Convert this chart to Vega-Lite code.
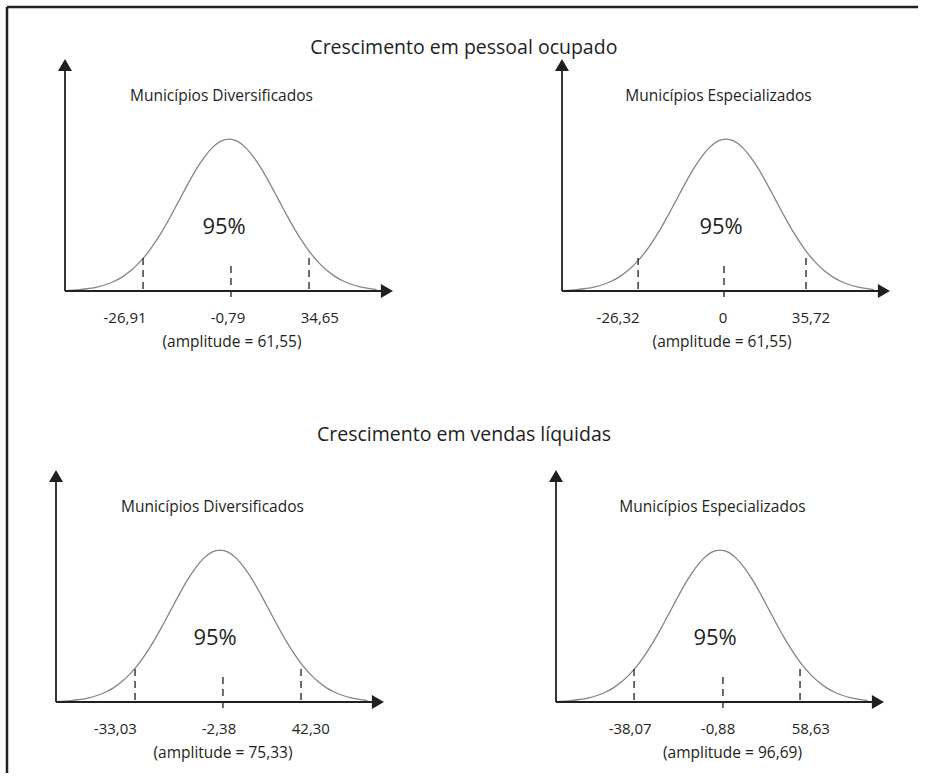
{
  "$schema": "https://vega.github.io/schema/vega-lite/v6.json",
  "background": "white",
  "padding": {"left": 5, "top": 5, "right": 3, "bottom": 3},
  "config": {"view": {"stroke": null}},
  "datasets": {
    "curva": [
      {"x": 0, "y": 0.2}, {"x": 2.5, "y": 0.4}, {"x": 5, "y": 0.7}, {"x": 7.5, "y": 1.1},
      {"x": 10, "y": 1.8}, {"x": 12.5, "y": 2.8}, {"x": 15, "y": 4.2}, {"x": 17.5, "y": 6.1},
      {"x": 20, "y": 8.7}, {"x": 22.5, "y": 12.0}, {"x": 25, "y": 16.1}, {"x": 27.5, "y": 21.1},
      {"x": 30, "y": 26.7}, {"x": 32.5, "y": 33.0}, {"x": 35, "y": 39.6}, {"x": 37.5, "y": 46.2},
      {"x": 40, "y": 52.4}, {"x": 42.5, "y": 57.7}, {"x": 45, "y": 61.9}, {"x": 47.5, "y": 64.6},
      {"x": 50, "y": 65.5}, {"x": 52.5, "y": 64.6}, {"x": 55, "y": 61.9}, {"x": 57.5, "y": 57.7},
      {"x": 60, "y": 52.4}, {"x": 62.5, "y": 46.2}, {"x": 65, "y": 39.6}, {"x": 67.5, "y": 33.0},
      {"x": 70, "y": 26.7}, {"x": 72.5, "y": 21.1}, {"x": 75, "y": 16.1}, {"x": 77.5, "y": 12.0},
      {"x": 80, "y": 8.7}, {"x": 82.5, "y": 6.1}, {"x": 85, "y": 4.2}, {"x": 87.5, "y": 2.8},
      {"x": 90, "y": 1.8}, {"x": 92.5, "y": 1.1}, {"x": 95, "y": 0.6}
    ],
    "limites": [
      {"painel": "pessoal_div", "x": 23.8, "topo": 14.2, "base": 0},
      {"painel": "pessoal_div", "x": 50.6, "topo": 10.8, "base": -4.3},
      {"painel": "pessoal_div", "x": 74.4, "topo": 14.2, "base": 0},
      {"painel": "pessoal_esp", "x": 23.2, "topo": 14.2, "base": 0},
      {"painel": "pessoal_esp", "x": 49.4, "topo": 10.8, "base": -4.3},
      {"painel": "pessoal_esp", "x": 74.4, "topo": 14.2, "base": 0},
      {"painel": "vendas_div", "x": 24.1, "topo": 14.2, "base": 0},
      {"painel": "vendas_div", "x": 50.9, "topo": 10.8, "base": -4.3},
      {"painel": "vendas_div", "x": 74.7, "topo": 14.2, "base": 0},
      {"painel": "vendas_esp", "x": 23.8, "topo": 14.2, "base": 0},
      {"painel": "vendas_esp", "x": 50.9, "topo": 10.8, "base": -4.3},
      {"painel": "vendas_esp", "x": 74.4, "topo": 14.2, "base": 0}
    ],
    "rotulos": [
      {"painel": "pessoal_div", "tipo": "limite", "xr": 18.3, "texto": "-26,91"},
      {"painel": "pessoal_div", "tipo": "limite", "xr": 49.7, "texto": "-0,79"},
      {"painel": "pessoal_div", "tipo": "limite", "xr": 77.7, "texto": "34,65"},
      {"painel": "pessoal_div", "tipo": "amplitude", "xr": 50.9, "texto": "(amplitude = 61,55)"},
      {"painel": "pessoal_esp", "tipo": "limite", "xr": 17.1, "texto": "-26,32"},
      {"painel": "pessoal_esp", "tipo": "limite", "xr": 49.1, "texto": "0"},
      {"painel": "pessoal_esp", "tipo": "limite", "xr": 75.9, "texto": "35,72"},
      {"painel": "pessoal_esp", "tipo": "amplitude", "xr": 48.8, "texto": "(amplitude = 61,55)"},
      {"painel": "vendas_div", "tipo": "limite", "xr": 18.1, "texto": "-33,03"},
      {"painel": "vendas_div", "tipo": "limite", "xr": 49.7, "texto": "-2,38"},
      {"painel": "vendas_div", "tipo": "limite", "xr": 77.7, "texto": "42,30"},
      {"painel": "vendas_div", "tipo": "amplitude", "xr": 50.9, "texto": "(amplitude = 75,33)"},
      {"painel": "vendas_esp", "tipo": "limite", "xr": 22.6, "texto": "-38,07"},
      {"painel": "vendas_esp", "tipo": "limite", "xr": 49.4, "texto": "-0,88"},
      {"painel": "vendas_esp", "tipo": "limite", "xr": 77.7, "texto": "58,63"},
      {"painel": "vendas_esp", "tipo": "amplitude", "xr": 53.8, "texto": "(amplitude = 96,69)"}
    ],
    "paineis": [
      {"painel": "pessoal_div", "secao": "Crescimento em pessoal ocupado", "grupo": "Municípios Diversificados", "confianca": "95%"},
      {"painel": "pessoal_esp", "secao": "Crescimento em pessoal ocupado", "grupo": "Municípios Especializados", "confianca": "95%"},
      {"painel": "vendas_div", "secao": "Crescimento em vendas líquidas", "grupo": "Municípios Diversificados", "confianca": "95%"},
      {"painel": "vendas_esp", "secao": "Crescimento em vendas líquidas", "grupo": "Municípios Especializados", "confianca": "95%"}
    ]
  },
  "columns": 2,
  "bounds": "flush",
  "spacing": {"row": 179, "column": 163},
  "concat": [
    {
      "width": 337, "height": 232,
      "layer": [
        {"data": {"name": "curva"}, "mark": {"type": "line", "interpolate": "monotone", "color": "#858585", "strokeWidth": 1.3},
         "encoding": {"x": {"field": "x", "type": "quantitative", "scale": {"domain": [-2.744, 100], "nice": false, "zero": false}, "axis": null},
                      "y": {"field": "y", "type": "quantitative", "scale": {"domain": [0, 100], "nice": false}, "axis": null}}},
        {"data": {"values": [{}]}, "mark": {"type": "rule", "color": "#231f20", "strokeWidth": 1.8},
         "encoding": {"x": {"datum": 0, "type": "quantitative"}, "y": {"datum": 0, "type": "quantitative"}, "y2": {"datum": 97.4}}},
        {"data": {"values": [{}]}, "mark": {"type": "rule", "color": "#231f20", "strokeWidth": 1.8},
         "encoding": {"x": {"datum": 0, "type": "quantitative"}, "x2": {"datum": 98.15}, "y": {"datum": 0, "type": "quantitative"}}},
        {"data": {"values": [{}]}, "mark": {"type": "point", "shape": "triangle-up", "size": 196, "filled": true, "opacity": 1, "color": "#231f20"},
         "encoding": {"x": {"datum": 0, "type": "quantitative"}, "y": {"datum": 97.4, "type": "quantitative"}}},
        {"data": {"values": [{}]}, "mark": {"type": "point", "shape": "triangle-right", "size": 196, "filled": true, "opacity": 1, "color": "#231f20"},
         "encoding": {"x": {"datum": 98.15, "type": "quantitative"}, "y": {"datum": 0, "type": "quantitative"}}},
        {"data": {"name": "limites"}, "transform": [{"filter": "datum.painel == 'pessoal_div'"}],
         "mark": {"type": "rule", "color": "#231f20", "strokeWidth": 1.3, "strokeDash": [7, 5]},
         "encoding": {"x": {"field": "x", "type": "quantitative"}, "y": {"field": "topo", "type": "quantitative"}, "y2": {"field": "base"}}},
        {"data": {"name": "rotulos"}, "transform": [{"filter": "datum.painel == 'pessoal_div' && datum.tipo == 'limite'"}],
         "mark": {"type": "text", "font": "Open Sans", "fontSize": 15, "color": "#231f20"},
         "encoding": {"x": {"field": "xr", "type": "quantitative"}, "y": {"datum": -11.8, "type": "quantitative"}, "text": {"field": "texto"}}},
        {"data": {"name": "rotulos"}, "transform": [{"filter": "datum.painel == 'pessoal_div' && datum.tipo == 'amplitude'"}],
         "mark": {"type": "text", "font": "Open Sans", "fontSize": 15.5, "color": "#231f20"},
         "encoding": {"x": {"field": "xr", "type": "quantitative"}, "y": {"datum": -22, "type": "quantitative"}, "text": {"field": "texto"}}},
        {"data": {"name": "paineis"}, "transform": [{"filter": "datum.painel == 'pessoal_div'"}],
         "mark": {"type": "text", "font": "Open Sans", "fontSize": 15.5, "color": "#231f20"},
         "encoding": {"x": {"datum": 47.7, "type": "quantitative"}, "y": {"datum": 84, "type": "quantitative"}, "text": {"field": "grupo"}}},
        {"data": {"name": "paineis"}, "transform": [{"filter": "datum.painel == 'pessoal_div'"}],
         "mark": {"type": "text", "font": "Open Sans", "fontSize": 22, "color": "#231f20"},
         "encoding": {"x": {"datum": 48.5, "type": "quantitative"}, "y": {"datum": 27.5, "type": "quantitative"}, "text": {"field": "confianca"}}},
        {"data": {"name": "paineis"}, "transform": [{"filter": "datum.painel == 'pessoal_div'"}],
         "mark": {"type": "text", "font": "Open Sans", "fontSize": 19.5, "baseline": "alphabetic", "color": "#231f20"},
         "encoding": {"x": {"datum": 121.6, "type": "quantitative"}, "y": {"datum": 102.2, "type": "quantitative"}, "text": {"field": "secao"}}},
        {"data": {"values": [{}]}, "mark": {"type": "rule", "color": "#231f20", "strokeWidth": 2.5},
         "encoding": {"x": {"datum": -17.68, "type": "quantitative"}, "y": {"datum": 122.4, "type": "quantitative"}, "y2": {"datum": -207.8}}},
        {"data": {"values": [{}]}, "mark": {"type": "rule", "color": "#231f20", "strokeWidth": 2.5},
         "encoding": {"x": {"datum": -17.68, "type": "quantitative"}, "x2": {"datum": 260.1}, "y": {"datum": 122.4, "type": "quantitative"}}}
      ]
    },
    {
      "width": 337, "height": 232,
      "layer": [
        {"data": {"name": "curva"}, "mark": {"type": "line", "interpolate": "monotone", "color": "#858585", "strokeWidth": 1.3},
         "encoding": {"x": {"field": "x", "type": "quantitative", "scale": {"domain": [-1.829, 100.915], "nice": false, "zero": false}, "axis": null},
                      "y": {"field": "y", "type": "quantitative", "scale": {"domain": [0, 100], "nice": false}, "axis": null}}},
        {"data": {"values": [{}]}, "mark": {"type": "rule", "color": "#231f20", "strokeWidth": 1.8},
         "encoding": {"x": {"datum": 0, "type": "quantitative"}, "y": {"datum": 0, "type": "quantitative"}, "y2": {"datum": 97.4}}},
        {"data": {"values": [{}]}, "mark": {"type": "rule", "color": "#231f20", "strokeWidth": 1.8},
         "encoding": {"x": {"datum": 0, "type": "quantitative"}, "x2": {"datum": 98.15}, "y": {"datum": 0, "type": "quantitative"}}},
        {"data": {"values": [{}]}, "mark": {"type": "point", "shape": "triangle-up", "size": 196, "filled": true, "opacity": 1, "color": "#231f20"},
         "encoding": {"x": {"datum": 0, "type": "quantitative"}, "y": {"datum": 97.4, "type": "quantitative"}}},
        {"data": {"values": [{}]}, "mark": {"type": "point", "shape": "triangle-right", "size": 196, "filled": true, "opacity": 1, "color": "#231f20"},
         "encoding": {"x": {"datum": 98.15, "type": "quantitative"}, "y": {"datum": 0, "type": "quantitative"}}},
        {"data": {"name": "limites"}, "transform": [{"filter": "datum.painel == 'pessoal_esp'"}],
         "mark": {"type": "rule", "color": "#231f20", "strokeWidth": 1.3, "strokeDash": [7, 5]},
         "encoding": {"x": {"field": "x", "type": "quantitative"}, "y": {"field": "topo", "type": "quantitative"}, "y2": {"field": "base"}}},
        {"data": {"name": "rotulos"}, "transform": [{"filter": "datum.painel == 'pessoal_esp' && datum.tipo == 'limite'"}],
         "mark": {"type": "text", "font": "Open Sans", "fontSize": 15, "color": "#231f20"},
         "encoding": {"x": {"field": "xr", "type": "quantitative"}, "y": {"datum": -11.8, "type": "quantitative"}, "text": {"field": "texto"}}},
        {"data": {"name": "rotulos"}, "transform": [{"filter": "datum.painel == 'pessoal_esp' && datum.tipo == 'amplitude'"}],
         "mark": {"type": "text", "font": "Open Sans", "fontSize": 15.5, "color": "#231f20"},
         "encoding": {"x": {"field": "xr", "type": "quantitative"}, "y": {"datum": -22, "type": "quantitative"}, "text": {"field": "texto"}}},
        {"data": {"name": "paineis"}, "transform": [{"filter": "datum.painel == 'pessoal_esp'"}],
         "mark": {"type": "text", "font": "Open Sans", "fontSize": 15.5, "color": "#231f20"},
         "encoding": {"x": {"datum": 47.7, "type": "quantitative"}, "y": {"datum": 84, "type": "quantitative"}, "text": {"field": "grupo"}}},
        {"data": {"name": "paineis"}, "transform": [{"filter": "datum.painel == 'pessoal_esp'"}],
         "mark": {"type": "text", "font": "Open Sans", "fontSize": 22, "color": "#231f20"},
         "encoding": {"x": {"datum": 48.5, "type": "quantitative"}, "y": {"datum": 27.5, "type": "quantitative"}, "text": {"field": "confianca"}}}
      ]
    },
    {
      "width": 337, "height": 232,
      "layer": [
        {"data": {"name": "curva"}, "mark": {"type": "line", "interpolate": "monotone", "color": "#858585", "strokeWidth": 1.3},
         "encoding": {"x": {"field": "x", "type": "quantitative", "scale": {"domain": [0, 102.744], "nice": false, "zero": false}, "axis": null},
                      "y": {"field": "y", "type": "quantitative", "scale": {"domain": [0, 100], "nice": false}, "axis": null}}},
        {"data": {"values": [{}]}, "mark": {"type": "rule", "color": "#231f20", "strokeWidth": 1.8},
         "encoding": {"x": {"datum": 0, "type": "quantitative"}, "y": {"datum": 0, "type": "quantitative"}, "y2": {"datum": 97.4}}},
        {"data": {"values": [{}]}, "mark": {"type": "rule", "color": "#231f20", "strokeWidth": 1.8},
         "encoding": {"x": {"datum": 0, "type": "quantitative"}, "x2": {"datum": 98.15}, "y": {"datum": 0, "type": "quantitative"}}},
        {"data": {"values": [{}]}, "mark": {"type": "point", "shape": "triangle-up", "size": 196, "filled": true, "opacity": 1, "color": "#231f20"},
         "encoding": {"x": {"datum": 0, "type": "quantitative"}, "y": {"datum": 97.4, "type": "quantitative"}}},
        {"data": {"values": [{}]}, "mark": {"type": "point", "shape": "triangle-right", "size": 196, "filled": true, "opacity": 1, "color": "#231f20"},
         "encoding": {"x": {"datum": 98.15, "type": "quantitative"}, "y": {"datum": 0, "type": "quantitative"}}},
        {"data": {"name": "limites"}, "transform": [{"filter": "datum.painel == 'vendas_div'"}],
         "mark": {"type": "rule", "color": "#231f20", "strokeWidth": 1.3, "strokeDash": [7, 5]},
         "encoding": {"x": {"field": "x", "type": "quantitative"}, "y": {"field": "topo", "type": "quantitative"}, "y2": {"field": "base"}}},
        {"data": {"name": "rotulos"}, "transform": [{"filter": "datum.painel == 'vendas_div' && datum.tipo == 'limite'"}],
         "mark": {"type": "text", "font": "Open Sans", "fontSize": 15, "color": "#231f20"},
         "encoding": {"x": {"field": "xr", "type": "quantitative"}, "y": {"datum": -11.8, "type": "quantitative"}, "text": {"field": "texto"}}},
        {"data": {"name": "rotulos"}, "transform": [{"filter": "datum.painel == 'vendas_div' && datum.tipo == 'amplitude'"}],
         "mark": {"type": "text", "font": "Open Sans", "fontSize": 15.5, "color": "#231f20"},
         "encoding": {"x": {"field": "xr", "type": "quantitative"}, "y": {"datum": -22, "type": "quantitative"}, "text": {"field": "texto"}}},
        {"data": {"name": "paineis"}, "transform": [{"filter": "datum.painel == 'vendas_div'"}],
         "mark": {"type": "text", "font": "Open Sans", "fontSize": 15.5, "color": "#231f20"},
         "encoding": {"x": {"datum": 47.7, "type": "quantitative"}, "y": {"datum": 84, "type": "quantitative"}, "text": {"field": "grupo"}}},
        {"data": {"name": "paineis"}, "transform": [{"filter": "datum.painel == 'vendas_div'"}],
         "mark": {"type": "text", "font": "Open Sans", "fontSize": 22, "color": "#231f20"},
         "encoding": {"x": {"datum": 48.5, "type": "quantitative"}, "y": {"datum": 27.5, "type": "quantitative"}, "text": {"field": "confianca"}}},
        {"data": {"name": "paineis"}, "transform": [{"filter": "datum.painel == 'vendas_div'"}],
         "mark": {"type": "text", "font": "Open Sans", "fontSize": 19.5, "baseline": "alphabetic", "color": "#231f20"},
         "encoding": {"x": {"datum": 124.4, "type": "quantitative"}, "y": {"datum": 112.5, "type": "quantitative"}, "text": {"field": "secao"}}}
      ]
    },
    {
      "width": 337, "height": 232,
      "layer": [
        {"data": {"name": "curva"}, "mark": {"type": "line", "interpolate": "monotone", "color": "#858585", "strokeWidth": 1.3},
         "encoding": {"x": {"field": "x", "type": "quantitative", "scale": {"domain": [0, 102.744], "nice": false, "zero": false}, "axis": null},
                      "y": {"field": "y", "type": "quantitative", "scale": {"domain": [0, 100], "nice": false}, "axis": null}}},
        {"data": {"values": [{}]}, "mark": {"type": "rule", "color": "#231f20", "strokeWidth": 1.8},
         "encoding": {"x": {"datum": 0, "type": "quantitative"}, "y": {"datum": 0, "type": "quantitative"}, "y2": {"datum": 97.4}}},
        {"data": {"values": [{}]}, "mark": {"type": "rule", "color": "#231f20", "strokeWidth": 1.8},
         "encoding": {"x": {"datum": 0, "type": "quantitative"}, "x2": {"datum": 98.15}, "y": {"datum": 0, "type": "quantitative"}}},
        {"data": {"values": [{}]}, "mark": {"type": "point", "shape": "triangle-up", "size": 196, "filled": true, "opacity": 1, "color": "#231f20"},
         "encoding": {"x": {"datum": 0, "type": "quantitative"}, "y": {"datum": 97.4, "type": "quantitative"}}},
        {"data": {"values": [{}]}, "mark": {"type": "point", "shape": "triangle-right", "size": 196, "filled": true, "opacity": 1, "color": "#231f20"},
         "encoding": {"x": {"datum": 98.15, "type": "quantitative"}, "y": {"datum": 0, "type": "quantitative"}}},
        {"data": {"name": "limites"}, "transform": [{"filter": "datum.painel == 'vendas_esp'"}],
         "mark": {"type": "rule", "color": "#231f20", "strokeWidth": 1.3, "strokeDash": [7, 5]},
         "encoding": {"x": {"field": "x", "type": "quantitative"}, "y": {"field": "topo", "type": "quantitative"}, "y2": {"field": "base"}}},
        {"data": {"name": "rotulos"}, "transform": [{"filter": "datum.painel == 'vendas_esp' && datum.tipo == 'limite'"}],
         "mark": {"type": "text", "font": "Open Sans", "fontSize": 15, "color": "#231f20"},
         "encoding": {"x": {"field": "xr", "type": "quantitative"}, "y": {"datum": -11.8, "type": "quantitative"}, "text": {"field": "texto"}}},
        {"data": {"name": "rotulos"}, "transform": [{"filter": "datum.painel == 'vendas_esp' && datum.tipo == 'amplitude'"}],
         "mark": {"type": "text", "font": "Open Sans", "fontSize": 15.5, "color": "#231f20"},
         "encoding": {"x": {"field": "xr", "type": "quantitative"}, "y": {"datum": -22, "type": "quantitative"}, "text": {"field": "texto"}}},
        {"data": {"name": "paineis"}, "transform": [{"filter": "datum.painel == 'vendas_esp'"}],
         "mark": {"type": "text", "font": "Open Sans", "fontSize": 15.5, "color": "#231f20"},
         "encoding": {"x": {"datum": 47.7, "type": "quantitative"}, "y": {"datum": 84, "type": "quantitative"}, "text": {"field": "grupo"}}},
        {"data": {"name": "paineis"}, "transform": [{"filter": "datum.painel == 'vendas_esp'"}],
         "mark": {"type": "text", "font": "Open Sans", "fontSize": 22, "color": "#231f20"},
         "encoding": {"x": {"datum": 48.5, "type": "quantitative"}, "y": {"datum": 27.5, "type": "quantitative"}, "text": {"field": "confianca"}}}
      ]
    }
  ]
}
